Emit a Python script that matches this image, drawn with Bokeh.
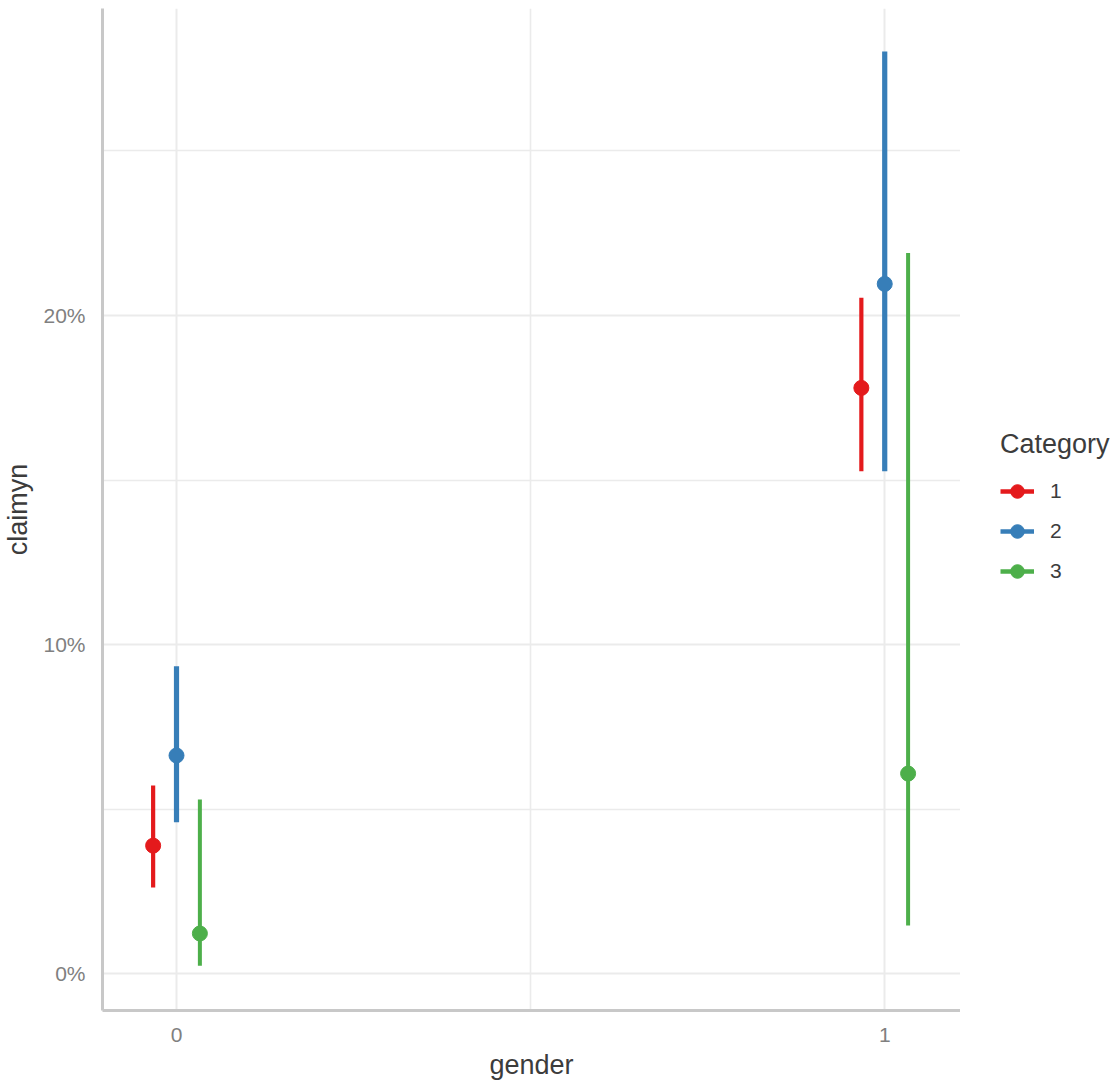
from bokeh.plotting import figure
from bokeh.models import (ColumnDataSource, Range1d, FixedTicker, NumeralTickFormatter,
                          Legend, LegendItem)
from bokeh.layouts import row
from bokeh.embed import file_html
from bokeh.resources import INLINE

# ---- data ----
genders = [0, 1]
categories = ["1", "2", "3"]
colors = ["#E41A1C", "#377EB8", "#4DAF4A"]
dodge = [-0.033, 0.0, 0.033]
line_widths = [4.2, 5.2, 4.0]

est_cat1 = [0.0389, 0.1780]
lo_cat1 = [0.0262, 0.1527]
hi_cat1 = [0.0572, 0.2054]

est_cat2 = [0.0663, 0.2096]
lo_cat2 = [0.0460, 0.1527]
hi_cat2 = [0.0934, 0.2802]

est_cat3 = [0.0122, 0.0608]
lo_cat3 = [0.0024, 0.0146]
hi_cat3 = [0.0529, 0.2190]

ests = [est_cat1, est_cat2, est_cat3]
los = [lo_cat1, lo_cat2, lo_cat3]
his = [hi_cat1, hi_cat2, hi_cat3]

y_ticks = [0.0, 0.1, 0.2]
y_minor = [0.05, 0.15, 0.25]
x_ticks = [0, 1]
x_minor = [0.5]

FONT = "Liberation Sans"
GRID = "#EBEBEB"
H = 1070

p = figure(output_backend="svg", toolbar_location=None,
           x_range=Range1d(-0.1045, 1.107), y_range=Range1d(-0.0112, 0.2933),
           min_border_left=94, min_border_top=8, min_border_bottom=60, min_border_right=0)
p.frame_width = 858
p.frame_height = 1002
p.outline_line_color = None
p.background_fill_color = "white"
p.border_fill_color = "white"

# axes
p.xaxis.ticker = FixedTicker(ticks=x_ticks, minor_ticks=x_minor)
p.yaxis.ticker = FixedTicker(ticks=y_ticks, minor_ticks=y_minor)
p.yaxis.formatter = NumeralTickFormatter(format="0%")
for ax in (p.xaxis, p.yaxis):
    ax.axis_line_color = "#C8C8C8"
    ax.axis_line_width = 3
    ax.major_tick_line_color = None
    ax.minor_tick_line_color = None
    ax.major_label_text_font = FONT
    ax.major_label_text_font_size = "21px"
    ax.major_label_text_color = "#808080"
    ax.major_label_standoff = 11
    ax.axis_label_text_font = FONT
    ax.axis_label_text_font_size = "27px"
    ax.axis_label_text_font_style = "normal"
    ax.axis_label_text_color = "#3C3C3C"
p.xaxis.axis_label = "gender"
p.yaxis.axis_label = "claimyn"
p.xaxis.axis_label_standoff = 5
p.yaxis.axis_label_standoff = 7

# grid
for g in (p.xgrid, p.ygrid):
    g.grid_line_color = GRID
    g.grid_line_width = 2
    g.minor_grid_line_color = GRID
    g.minor_grid_line_width = 1.6

for i, cat in enumerate(categories):
    xs = [g + dodge[i] for g in genders]
    src = ColumnDataSource(dict(x=xs, est=ests[i], lo=los[i], hi=his[i]))
    p.segment(x0="x", y0="lo", x1="x", y1="hi", source=src,
              line_color=colors[i], line_width=line_widths[i], line_cap="butt")
    p.scatter(x="x", y="est", source=src, size=15, marker="circle",
              fill_color=colors[i], line_color=colors[i], line_width=1)

# ---- legend figure ----
p2 = figure(width=157, height=H, output_backend="svg", toolbar_location=None,
            x_range=Range1d(0, 157), y_range=Range1d(0, H),
            min_border=0, x_axis_type=None, y_axis_type=None)
p2.outline_line_color = None
p2.xgrid.visible = False
p2.ygrid.visible = False

items = []
for i, cat in enumerate(categories):
    dsrc = ColumnDataSource(dict(x=[-100], y0=[-100], y1=[-90]))
    seg = p2.segment(x0="x", y0="y0", x1="x", y1="y1", source=dsrc,
                     line_color=colors[i], line_width=4.5, line_cap="butt")
    pts = p2.scatter(x="x", y="y0", source=dsrc, size=15, marker="circle",
                     fill_color=colors[i], line_color=colors[i])
    items.append(LegendItem(label=cat, renderers=[seg, pts]))

legend = Legend(items=items, title="Category", location=(40, 410),
                title_text_font=FONT, title_text_font_size="27px", title_text_font_style="normal",
                title_text_color="#3C3C3C", title_standoff=14,
                label_text_font=FONT, label_text_font_size="21px", label_text_color="#3C3C3C",
                glyph_width=34, glyph_height=34, label_height=34, spacing=6,
                label_standoff=16, padding=0, margin=0,
                border_line_color=None, background_fill_alpha=0)
p2.add_layout(legend)

open("out.html", "w").write(file_html(row(p, p2), INLINE))
